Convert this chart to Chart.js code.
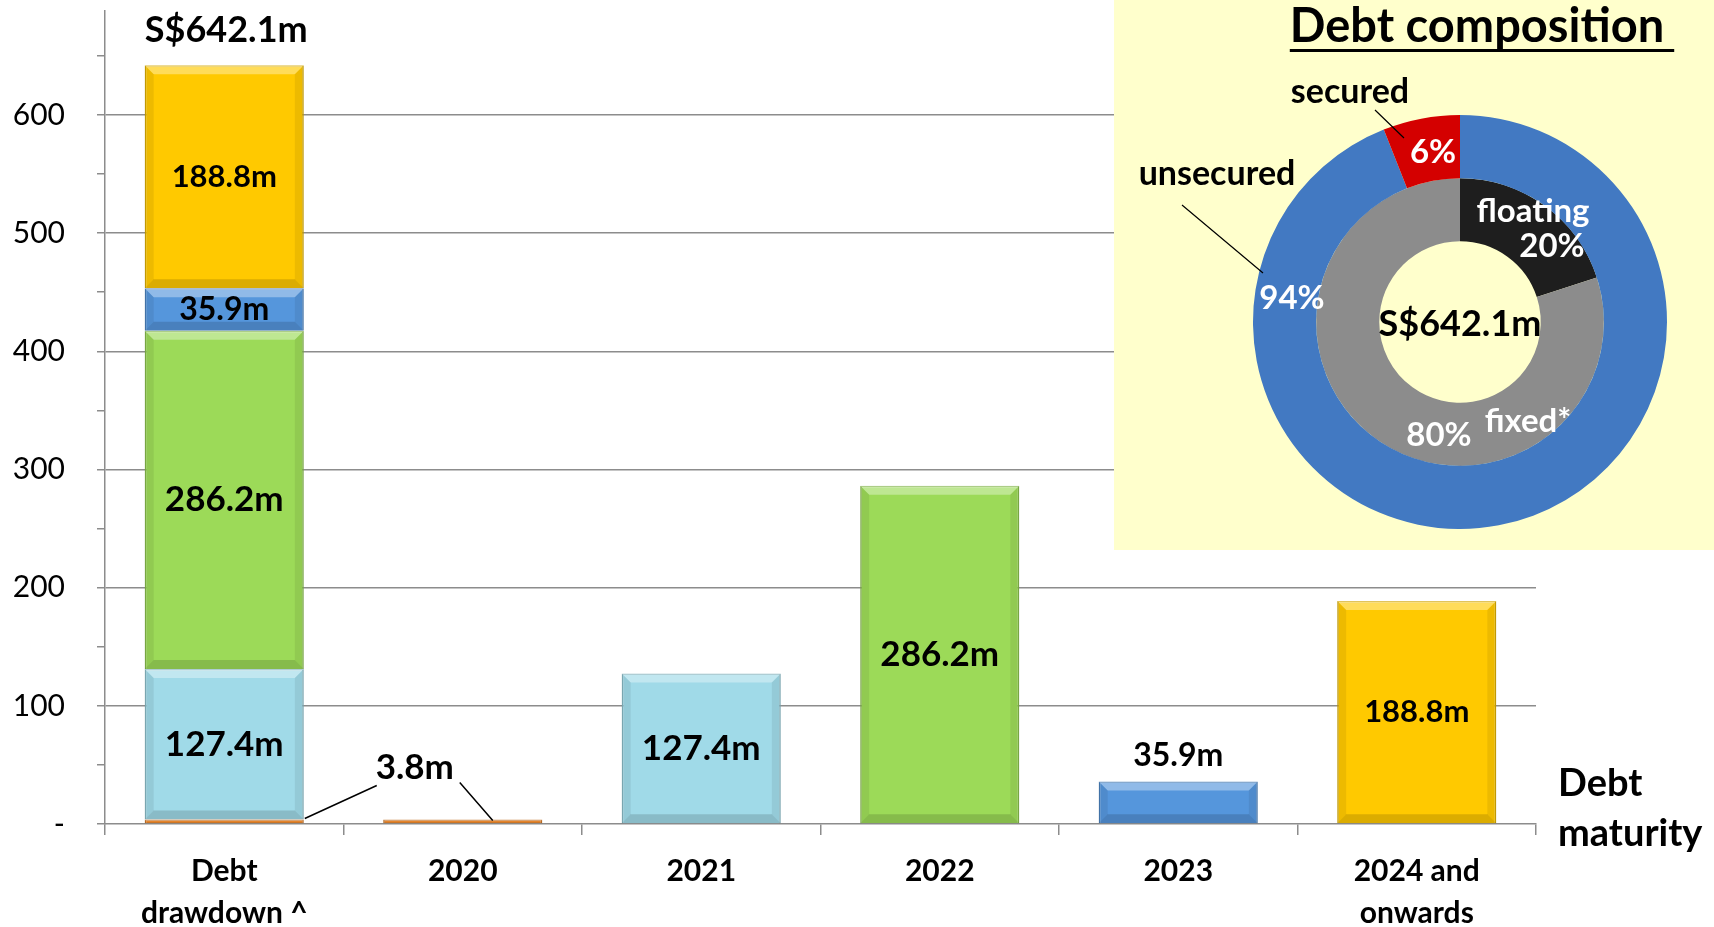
<!DOCTYPE html>
<html>
<head>
<meta charset="utf-8">
<script src="https://cdn.jsdelivr.net/npm/chart.js@4.4.1/dist/chart.umd.min.js"></script>
<style>
  html, body { margin: 0; padding: 0; background: #fff; }
  #wrap { position: relative; width: 1714px; height: 927px; overflow: hidden; }
  #bars { position: absolute; left: 0; top: 0; }
  #box { position: absolute; left: 1114px; top: 0; width: 600px; height: 550px; background: #FFFFCC; }
  #donut { position: absolute; left: 0; top: 0; }
</style>
</head>
<body>
<div id="wrap">
  <canvas id="bars" width="1714" height="927"></canvas>
  <div id="box"><canvas id="donut" width="600" height="550"></canvas></div>
</div>
<script>
// Debt maturity profile (S$ m)
const categories = [['Debt', 'drawdown ^'], '2020', '2021', '2022', '2023', ['2024 and', 'onwards']];
const orangeValues = [3.8, 3.8, null, null, null, null];
const lightBlueValues = [127.4, null, 127.4, null, null, null];
const greenValues = [286.2, null, null, 286.2, null, null];
const blueValues = [35.9, null, null, null, 35.9, null];
const yellowValues = [188.8, null, null, null, null, 188.8];
const totalLabel = 'S$642.1m';
const yMax = 688;
const yStep = 50;       // minor tick marks
const yLabelStep = 100; // labelled ticks

// Debt composition (%)
const securityLabels = ['unsecured', 'secured'];
const securityValues = [94, 6];
const rateLabels = ['floating', 'fixed*'];
const rateValues = [20, 80];

const FONT = 'Lato';
const GRID = '#8C8C8C';
const COLORS = ['#EE8A2E', '#A0DAE8', '#9CDA58', '#5596DC', '#FFC900'];
const LABEL_SIZES = [35, 35, 35, 32, 31]; // value label font per series

function darker(hex, f) {
  const n = parseInt(hex.slice(1), 16);
  const r = Math.round(((n >> 16) & 255) * f), g = Math.round(((n >> 8) & 255) * f), b = Math.round((n & 255) * f);
  return `rgb(${r},${g},${b})`;
}

// bevel look on every bar segment
const bevelPlugin = {
  id: 'bevel',
  afterDatasetsDraw(chart) {
    const ctx = chart.ctx;
    ctx.save();
    chart.data.datasets.forEach((ds, di) => {
      chart.getDatasetMeta(di).data.forEach((bar, i) => {
        if (ds.data[i] == null) return;
        const x0 = bar.x - bar.width / 2, x1 = bar.x + bar.width / 2;
        const y0 = Math.min(bar.y, bar.base), y1 = Math.max(bar.y, bar.base);
        const b = Math.min(9, (y1 - y0) / 2.5, (x1 - x0) / 4);
        if (b < 1) return;
        ctx.fillStyle = 'rgba(255,255,255,0.35)';
        ctx.beginPath();
        ctx.moveTo(x0, y0); ctx.lineTo(x1, y0); ctx.lineTo(x1 - b, y0 + b); ctx.lineTo(x0 + b, y0 + b);
        ctx.closePath(); ctx.fill();
        ctx.fillStyle = 'rgba(0,0,0,0.07)';
        ctx.beginPath();
        ctx.moveTo(x0, y0); ctx.lineTo(x0 + b, y0 + b); ctx.lineTo(x0 + b, y1 - b); ctx.lineTo(x0, y1);
        ctx.closePath(); ctx.fill();
        ctx.beginPath();
        ctx.moveTo(x1, y0); ctx.lineTo(x1 - b, y0 + b); ctx.lineTo(x1 - b, y1 - b); ctx.lineTo(x1, y1);
        ctx.closePath(); ctx.fill();
        ctx.fillStyle = 'rgba(0,0,0,0.14)';
        ctx.beginPath();
        ctx.moveTo(x0, y1); ctx.lineTo(x1, y1); ctx.lineTo(x1 - b, y1 - b); ctx.lineTo(x0 + b, y1 - b);
        ctx.closePath(); ctx.fill();
      });
    });
    ctx.restore();
  }
};

const barLabelPlugin = {
  id: 'barLabels',
  afterDraw(chart) {
    const ctx = chart.ctx;
    ctx.save();
    ctx.fillStyle = '#000';
    ctx.textAlign = 'center';
    ctx.textBaseline = 'middle';
    chart.data.datasets.forEach((ds, di) => {
      if (di === 0) return;
      ctx.font = `bold ${LABEL_SIZES[di]}px ${FONT}`;
      chart.getDatasetMeta(di).data.forEach((bar, i) => {
        const v = ds.data[i];
        if (v == null) return;
        const h = bar.base - bar.y;
        const text = v.toFixed(1) + 'm';
        if (i === 0 || h > 60) ctx.fillText(text, bar.x, (bar.y + bar.base) / 2);
        else ctx.fillText(text, bar.x, bar.y - 26);
      });
    });

    // small 3.8m tranche: one label with two leader lines
    const om = chart.getDatasetMeta(0).data;
    const b0 = om[0], b1 = om[1];
    const lx = b1.x - 48, ly = b1.y - 52;
    ctx.font = `bold ${LABEL_SIZES[0]}px ${FONT}`;
    ctx.fillText(orangeValues[1].toFixed(1) + 'm', lx, ly);
    ctx.strokeStyle = '#000';
    ctx.lineWidth = 1.5;
    ctx.beginPath();
    ctx.moveTo(lx - 38, ly + 18);
    ctx.lineTo(b0.x + b0.width / 2 + 1, b0.y - 1);
    ctx.moveTo(lx + 45, ly + 15);
    ctx.lineTo(b1.x + 30, b1.y + 1);
    ctx.stroke();

    // total above the drawdown stack
    const top = chart.getDatasetMeta(4).data[0];
    ctx.font = `bold 36px ${FONT}`;
    ctx.fillText(totalLabel, top.x + 2, top.y - 35);

    // axis title to the right
    ctx.font = `bold 38px ${FONT}`;
    ctx.textAlign = 'left';
    ctx.fillText('Debt', 1558, 784);
    ctx.fillText('maturity', 1558, 834);
    ctx.restore();
  }
};

new Chart(document.getElementById('bars'), {
  type: 'bar',
  data: {
    labels: categories,
    datasets: [orangeValues, lightBlueValues, greenValues, blueValues, yellowValues].map((d, i) => ({
      data: d,
      backgroundColor: COLORS[i],
      borderColor: darker(COLORS[i], 0.82),
      borderWidth: 1.5,
      barPercentage: 0.667,
      categoryPercentage: 1
    }))
  },
  options: {
    responsive: false,
    animation: false,
    layout: { padding: { left: 0, right: 178, top: 11, bottom: 0 } },
    plugins: { legend: { display: false }, tooltip: { enabled: false } },
    scales: {
      x: {
        stacked: true,
        afterFit: (s) => { s.height = 103; s.paddingLeft = 0; s.paddingRight = 0; },
        ticks: { padding: 15, color: '#000', maxRotation: 0, autoSkip: false,
                 font: { family: FONT, size: 30, weight: 'bold', lineHeight: 1.4 } },
        grid: { drawOnChartArea: false, tickLength: 11, color: GRID, lineWidth: 1.5 },
        border: { color: GRID, width: 1.5 }
      },
      y: {
        stacked: true,
        min: 0,
        max: yMax,
        afterFit: (s) => { s.width = 105; s.paddingTop = 0; s.paddingBottom = 0; },
        afterBuildTicks: (s) => { s.ticks = s.ticks.filter((t) => t.value % yStep === 0); },
        ticks: {
          stepSize: yStep, autoSkip: false, padding: 32, color: '#000',
          font: { family: FONT, size: 30 },
          callback: (v) => (v === 0 ? '-' : (v % yLabelStep === 0 ? String(v) : ''))
        },
        grid: {
          color: (c) => (c.tick && c.tick.value > 0 && c.tick.value % yLabelStep === 0 ? GRID : 'rgba(0,0,0,0)'),
          tickColor: GRID, lineWidth: 1.5, tickLength: 8
        },
        border: { color: GRID, width: 1.5 }
      }
    }
  },
  plugins: [bevelPlugin, barLabelPlugin]
});

// inset: debt composition doughnut
const donutTextPlugin = {
  id: 'donutText',
  afterDraw(chart) {
    const ctx = chart.ctx;
    const a = chart.chartArea;
    const cx = (a.left + a.right) / 2, cy = (a.top + a.bottom) / 2;
    ctx.save();
    ctx.textAlign = 'center';
    ctx.textBaseline = 'middle';

    // title
    ctx.fillStyle = '#000';
    ctx.font = `bold 47px ${FONT}`;
    const title = 'Debt composition';
    const tw = ctx.measureText(title).width;
    ctx.fillText(title, 363, 27);
    ctx.fillRect(363 - tw / 2, 49, tw + 10, 3);

    ctx.font = `bold 34px ${FONT}`;
    ctx.fillText(securityLabels[1], cx - 110, cy - 230);
    ctx.fillText(securityLabels[0], cx - 243, cy - 148);
    ctx.font = `bold 36px ${FONT}`;
    ctx.fillText(totalLabel, cx, cy + 2);

    ctx.strokeStyle = '#000';
    ctx.lineWidth = 1.2;
    ctx.beginPath();
    ctx.moveTo(cx - 85, cy - 212); ctx.lineTo(cx - 56, cy - 184);
    ctx.moveTo(cx - 278, cy - 117); ctx.lineTo(cx - 197, cy - 49);
    ctx.stroke();

    ctx.fillStyle = '#fff';
    ctx.font = `bold 33px ${FONT}`;
    ctx.fillText(securityValues[1] + '%', cx - 27, cy - 170);
    ctx.fillText(securityValues[0] + '%', cx - 168, cy - 24);
    ctx.fillText(rateLabels[0], cx + 73, cy - 111);
    ctx.fillText(rateValues[0] + '%', cx + 92, cy - 76);
    ctx.fillText(rateValues[1] + '%', cx - 21, cy + 113);
    ctx.fillText(rateLabels[1], cx + 68, cy + 99);
    ctx.restore();
  }
};

new Chart(document.getElementById('donut'), {
  type: 'doughnut',
  data: {
    labels: securityLabels,
    datasets: [
      { data: securityValues, backgroundColor: ['#4279C2', '#D40000'], borderWidth: 0 },
      { data: rateValues, backgroundColor: ['#1E1E1E', '#8C8C8C'], borderWidth: 0 }
    ]
  },
  options: {
    responsive: false,
    animation: false,
    cutout: '39%',
    layout: { padding: { left: 139, top: 115, right: 47, bottom: 21 } },
    plugins: { legend: { display: false }, tooltip: { enabled: false } }
  },
  plugins: [donutTextPlugin]
});
</script>
</body>
</html>
